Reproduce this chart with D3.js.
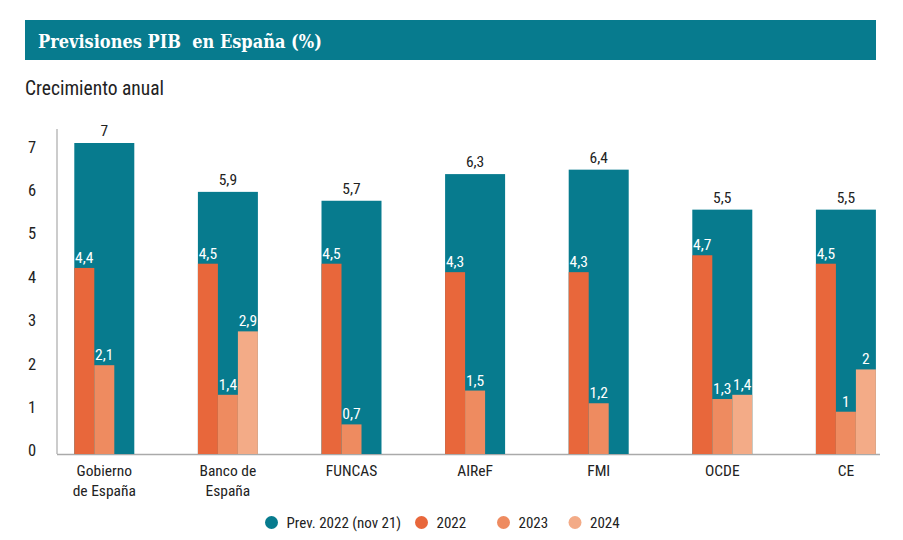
<!DOCTYPE html>
<html><head><meta charset="utf-8">
<script src="https://cdn.jsdelivr.net/npm/d3@7"></script>
<style>
body{margin:0;background:#fff;}
svg{display:block;}
</style></head>
<body>
<svg id="chart" width="903" height="540"></svg>
<script>
const categories = ["Gobierno\nde España", "Banco de\nEspaña", "FUNCAS", "AIReF", "FMI", "OCDE", "CE"];
const prev2022 = [7, 5.9, 5.7, 6.3, 6.4, 5.5, 5.5];
const y2022 = [4.4, 4.5, 4.5, 4.3, 4.3, 4.7, 4.5];
const y2023 = [2.1, 1.4, 0.7, 1.5, 1.2, 1.3, 1];
const y2024 = [null, 2.9, null, null, null, 1.4, 2];
const yTicks = [0, 1, 2, 3, 4, 5, 6, 7];
const seriesNames = ["Prev. 2022 (nov 21)", "2022", "2023", "2024"];
const colors = ["#077b8e", "#e8673b", "#ee8b60", "#f3ab87"];

const fmt = v => String(v).replace(".", ",");
const svg = d3.select("#chart");
const FONT = '"Roboto Condensed","Liberation Sans Narrow","DejaVu Sans Condensed",sans-serif';

// Header
svg.append("rect").attr("x", 25).attr("y", 20).attr("width", 851).attr("height", 40).attr("fill", "#077b8e");
svg.append("text").attr("x", 38).attr("y", 47.5).attr("fill", "#fff")
  .attr("font-family", '"DejaVu Serif",serif').attr("font-weight", "bold").attr("font-size", 18)
  .style("font-stretch", "condensed").style("white-space", "pre")
  .text("Previsiones PIB  en España (%)");
svg.append("text").attr("x", 25).attr("y", 95).attr("fill", "#222")
  .attr("font-family", FONT).attr("font-size", 19.5).text("Crecimiento anual");

// scales (the original overlays the forecast bars and the yearly bars at slightly different scales)
const yPrev = d3.scaleLinear().domain([0, 7]).range([454, 143]);
const yYear = d3.scaleLinear().domain([0, 7]).range([454, 158]);
const yLab = d3.scaleLinear().domain([0, 7]).range([450, 146.5]);
const x = d3.scaleBand().domain(categories).range([42.5, 907.7]).paddingInner(0.5146).paddingOuter(0.2573);
const xs = d3.scaleBand().domain(["2022", "2023", "2024"]).range([0, x.bandwidth()]);

// Axes
svg.append("line").attr("x1", 57).attr("x2", 57).attr("y1", 129).attr("y2", 454).attr("stroke", "#999").attr("stroke-width", 1);
svg.append("line").attr("x1", 57).attr("x2", 880).attr("y1", 454.5).attr("y2", 454.5).attr("stroke", "#aaa").attr("stroke-width", 1.5);

const yAxis = svg.append("g").attr("transform", "translate(32,0)")
  .call(d3.axisLeft(yLab).tickValues(yTicks).tickSize(0).tickPadding(0).tickFormat(d => d));
yAxis.select(".domain").remove();
yAxis.selectAll("text").attr("font-family", FONT).attr("font-size", 16.5).attr("fill", "#222")
  .attr("text-anchor", "middle").attr("x", 0).attr("dy", "0.35em");

const g = svg.append("g");
categories.forEach((c, i) => {
  const x0 = x(c);
  const bw = x.bandwidth();
  g.append("rect").attr("x", x0).attr("y", yPrev(prev2022[i])).attr("width", bw).attr("height", yPrev(0) - yPrev(prev2022[i])).attr("fill", colors[0]);
  g.append("text").attr("x", x0 + bw / 2).attr("y", yPrev(prev2022[i]) - 7).attr("text-anchor", "middle")
    .attr("font-family", FONT).attr("font-size", 15.5).attr("fill", "#222").text(fmt(prev2022[i]));
  [[y2022, "2022", 1], [y2023, "2023", 2], [y2024, "2024", 3]].forEach(([arr, key, ci]) => {
    const v = arr[i];
    if (v == null) return;
    const sx = x0 + xs(key);
    g.append("rect").attr("x", sx).attr("y", yYear(v)).attr("width", xs.bandwidth()).attr("height", yYear(0) - yYear(v)).attr("fill", colors[ci]);
    g.append("text").attr("x", sx + xs.bandwidth() / 2).attr("y", yYear(v) - 5).attr("text-anchor", "middle")
      .attr("font-family", FONT).attr("font-size", 15.5).attr("fill", "#fff").text(fmt(v));
  });
  c.split("\n").forEach((ln, k) => {
    svg.append("text").attr("x", x0 + bw / 2).attr("y", 476 + k * 20).attr("text-anchor", "middle")
      .attr("font-family", FONT).attr("font-size", 15.5).attr("fill", "#222").text(ln);
  });
});

// Legend
const legX = [271.5, 421.5, 503.5, 575];
seriesNames.forEach((s, i) => {
  svg.append("circle").attr("cx", legX[i]).attr("cy", 522.5).attr("r", 6.5).attr("fill", colors[i]);
  svg.append("text").attr("x", legX[i] + 15).attr("y", 528).attr("font-family", FONT).attr("font-size", 15)
    .attr("fill", "#222").text(s);
});
</script>
</body></html>
